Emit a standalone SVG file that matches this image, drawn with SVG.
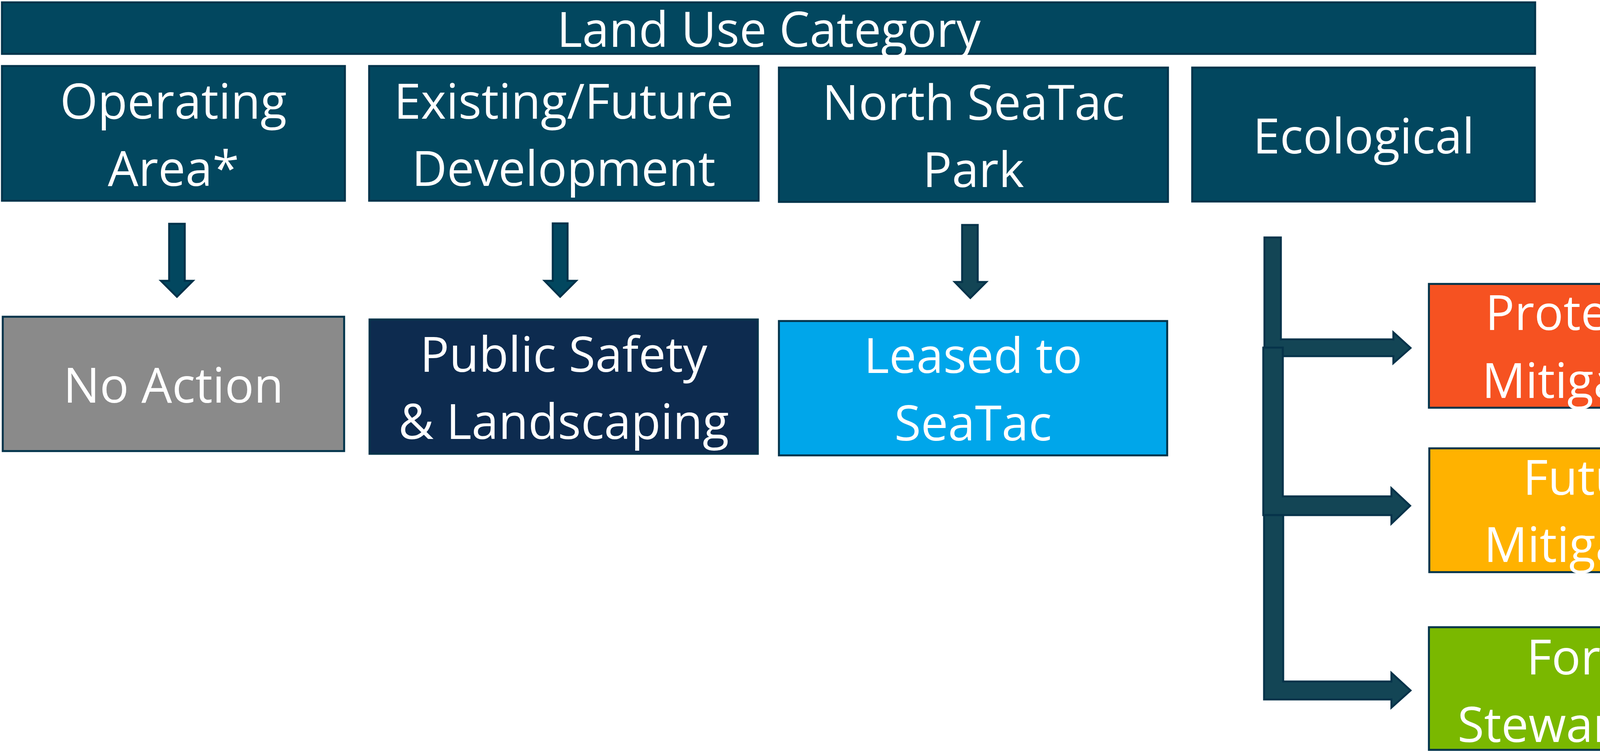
<svg xmlns="http://www.w3.org/2000/svg" width="4523" height="1923" viewBox="0 0 4523 1923">
<style>
.t{font-family:"Open Sans","Noto Sans","DejaVu Sans",sans-serif;font-size:124px;fill:#ffffff;text-anchor:middle}
.box{stroke:#00334A;stroke-width:5}
.teal{fill:#02475F}
.arr{fill:#02475F;stroke:#00324A;stroke-width:5;stroke-linejoin:miter}
.arr2{fill:#134555;stroke:#06334A;stroke-width:5;stroke-linejoin:miter}
</style>
<rect width="4523" height="1923" fill="#ffffff"/>
<g id="land-use-category">
<rect class="box teal" x="5" y="6" width="3925" height="132"/>
<text class="t" x="1968" y="120">Land Use Category</text>
</g>
<g id="operating-area">
<rect class="box teal" x="5" y="169" width="878" height="345"/>
<text class="t" x="444" y="304">Operating</text>
<text class="t" x="444" y="476">Area*</text>
</g>
<g id="existing-future-development">
<rect class="box teal" x="945" y="169" width="997" height="345"/>
<text class="t" x="1443" y="304">Existing/Future</text>
<text class="t" x="1443" y="476">Development</text>
</g>
<g id="north-seatac-park">
<rect class="box teal" x="1994" y="173" width="996" height="344"/>
<text class="t" x="2492" y="307">North SeaTac</text>
<text class="t" x="2492" y="479">Park</text>
</g>
<g id="ecological">
<rect class="box teal" x="3052" y="173" width="877" height="343"/>
<text class="t" x="3491" y="393">Ecological</text>
</g>
<g id="connectors">
<polygon class="arr" points="433,573 473,573 473,719 494,719 453,760 412,719 433,719"/>
<polygon class="arr" points="1415,572 1453,572 1453,719 1475,719 1434,760 1394,719 1415,719"/>
<polygon class="arr2" points="2463,576 2503,576 2503,722 2525,722 2484,763 2444,722 2463,722"/>
<polygon class="arr2" points="3237,608 3279,608 3279,869 3567,869 3567,851 3611,891 3567,930 3567,912 3237,912"/>
<polygon class="arr2" points="3234,890 3284,890 3284,1271 3562,1271 3562,1250 3610,1295 3562,1341 3562,1319 3234,1319"/>
<polygon class="arr2" points="3236,1319 3285,1319 3285,1745 3562,1745 3562,1723 3611,1768 3562,1812 3562,1791 3236,1791"/>
</g>
<g id="no-action">
<rect class="box" fill="#8A8A8A" x="7" y="811" width="874" height="344"/>
<text class="t" x="444" y="1031">No Action</text>
</g>
<g id="public-safety-landscaping">
<rect class="box" fill="#0D2B4F" x="946" y="818" width="994" height="344"/>
<text class="t" x="1443" y="952">Public Safety</text>
<text class="t" x="1443" y="1124">&amp; Landscaping</text>
</g>
<g id="leased-to-seatac">
<rect class="box" fill="#00A6EA" x="1994" y="822" width="994" height="344"/>
<text class="t" x="2491" y="955">Leased to</text>
<text class="t" x="2491" y="1128">SeaTac</text>
</g>
<g id="protected-mitigation">
<rect class="box" fill="#F65221" x="3658" y="727" width="849" height="317"/>
<text class="t" x="4084" y="845">Protected</text>
<text class="t" x="4084" y="1019">Mitigation</text>
</g>
<g id="future-mitigation">
<rect class="box" fill="#FFB200" x="3659" y="1148" width="861" height="317"/>
<text class="t" x="4089" y="1267">Future</text>
<text class="t" x="4089" y="1439">Mitigation</text>
</g>
<g id="forest-stewardship">
<rect class="box" fill="#7AB800" x="3658" y="1606" width="862" height="314"/>
<text class="t" x="4089" y="1727">Forest</text>
<text class="t" x="4089" y="1900">Stewardship</text>
</g>
</svg>
